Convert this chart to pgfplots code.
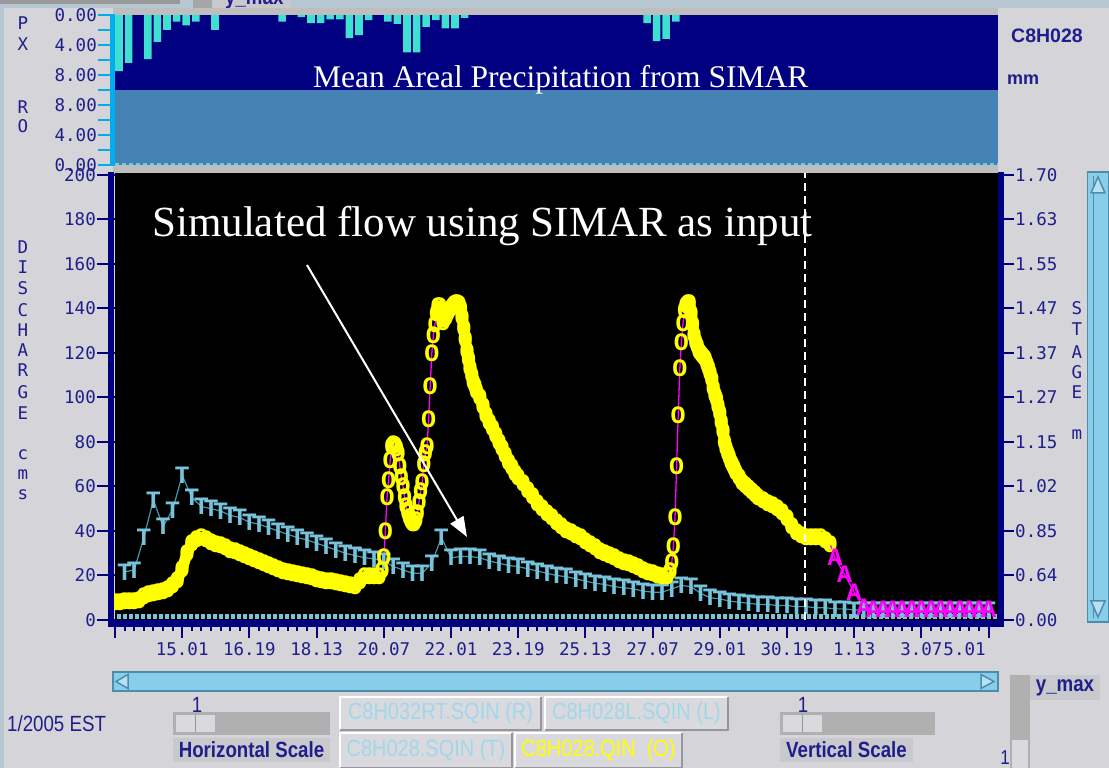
\documentclass[border=0pt]{standalone}
\usepackage{fontspec}
\setmainfont{Liberation Serif}
\newfontfamily\monof{DejaVu Sans Mono}
\newfontfamily\markf{Liberation Mono}
\newfontfamily\guif{Liberation Sans}
\usepackage{graphicx}
\usepackage{pgfplots}
\pgfplotsset{compat=1.18}
\usepackage{pgfplotstable}
\usetikzlibrary{arrows.meta}

\definecolor{bggray}{RGB}{213,212,216}
\definecolor{topstrip}{RGB}{183,200,210}
\definecolor{frameg}{RGB}{190,190,190}
\definecolor{pnavy}{RGB}{0,0,128}
\definecolor{psteel}{RGB}{70,130,180}
\definecolor{turq}{RGB}{64,224,208}
\definecolor{tlab}{RGB}{30,30,140}
\definecolor{tcol}{RGB}{120,195,220}
\definecolor{tline}{RGB}{70,150,165}
\definecolor{sky}{RGB}{135,206,235}
\definecolor{skyd}{RGB}{80,140,170}
\definecolor{btn}{RGB}{218,218,222}
\definecolor{btnd}{RGB}{150,150,155}
\definecolor{btntxt}{RGB}{160,215,235}
\definecolor{trough}{RGB}{176,176,176}
\definecolor{lblbox}{RGB}{200,200,205}
\definecolor{magp}{RGB}{255,0,255}
\definecolor{yel}{RGB}{255,255,0}
\definecolor{dcyan}{RGB}{95,210,225}

% precipitation (mm per 6 h), x in hours from the left edge
\pgfplotstableread{
h mm
2.5 7.5
8.5 6.4
20.5 5.9
26.5 3.6
32.5 2.0
38.5 0.9
44.5 1.4
50.5 0.9
62.5 2.0
104.5 0.9
116.5 0.3
122.5 1.1
128.5 1.1
134.5 0.6
140.5 0.6
146.5 3.1
152.5 2.7
158.5 0.7
170.5 0.9
176.5 1.2
182.5 5.0
188.5 5.0
194.5 1.6
200.5 0.7
206.5 1.8
212.5 1.8
218.5 0.4
332.5 1.1
338.5 3.5
344.5 3.2
350.5 0.9
}\precip

% C8H028.SQIN (T)
\pgfplotstableread{
h q
6 21.6
12 22.5
18 37
24 54
30 42
36 49.5
42 65
48 55
54 51
60 50
66 49
72 47
78 46
84 44
90 43
96 41.5
102 40
108 38.5
114 37
120 36
126 34.5
132 33
138 31.5
144 30
150 29
156 28
162 27.5
168 26.5
174 24
180 22.5
186 21
192 21
198 25.6
204 37
210 28
216 28.5
222 28.5
228 28
234 26.5
240 25.5
246 24.5
252 24
258 23
264 22
270 21
276 20
282 19.5
288 18.5
294 17.5
300 16.5
306 16
312 15
318 14.5
324 14
330 13
336 12.5
342 12.5
348 14
354 15.5
360 15
366 12
372 10
378 9.5
384 8.5
390 8
396 7.5
402 7
408 7
414 6.5
420 6.5
426 6
432 6
438 5.5
444 5.5
450 5
456 5
462 4.5
468 4.5
474 4.5
480 4.5
486 4.5
492 4.5
498 4.5
504 4.5
510 4.5
516 4.5
522 4.5
528 4.5
534 4.5
540 4.5
546 4.5
}\Tdata

% C8H028.QIN (O)
\pgfplotstableread{
h q
0 8
3 8
6 8.2
9 8.3
12 8.5
15 9
18 10.5
21 11.5
24 12
27 12.5
30 13
33 14
36 15.5
39 18
42 23
45 30
48 34.5
51 36.5
54 37
57 36.5
60 35
63 34
66 33.5
69 32.5
72 31.5
75 31
78 30
81 29
84 28
87 27.5
90 26.5
93 25.5
96 24.5
99 23.5
102 23
105 22
108 21.5
111 21
114 20.5
117 20
120 19.5
123 19
126 18.5
129 18
132 17.5
135 17.2
138 16.8
141 16.5
144 16
147 15.7
150 15.2
153 17.5
156 19.5
159 19.5
162 19.5
165 19.5
167 22.5
168 28
169 40
170 55
171 63
172 72
173 78
174 79
175 78.5
176 77
177 75
178 69
179 64
180 60
181 55
182 51
183 48.5
184 46
185 44.5
186 43.5
187 43.5
188 45
189 48
190 53
191 58
192 62
193 70
194 75
195 78
196 90
197 105
198 120
199 128
200 133
201 138
202 141
203 141
204 137
205 134
206 135
207 136
208 138
209 139
210 140
211 141
212 142
213 142.5
214 142.5
215 142
216 140
217 136
218 131
219 126
220 121
221 117
222 113
223 110
224 107
225 105
226 103
228 100
230 96
232 92
234 89
236 86
238 83
240 80
242 77
244 74
246 71
248 68.5
250 66
252 64
255 61.5
258 58.5
261 55.5
264 52.5
267 50
270 48
273 46
276 44
279 42
282 40.5
285 39.5
288 38
291 37
294 35.5
297 34
300 32.5
303 31
306 30
309 29
312 28
315 27
318 26
321 25.3
324 24.5
327 23.5
330 22.5
333 21.5
336 20.8
339 20
342 19.5
345 19.5
347 22
348 26
349 33
350 46
351 69
352 92
353 113
354 125
355 133.5
356 139
357 141.6
358 142.5
359 142.5
360 138
361 133
362 128
363 125
364 123
365 121
366 120
367 119
368 118
369 117
370 115
371 113
372 111
373 108
374 104
375 101
376 99
377 96
378 93
379 89
380 85
381 80
382 77
383 75
384 73
385 71
386 69.5
387 68
388 66.5
390 64
392 62
394 60.5
396 59
398 58
400 56.5
402 55
405 54
408 52.5
411 51.5
414 50
417 48.5
420 45.5
423 42
426 39.5
429 38
432 37.3
435 37
438 37
441 37
444 36
447 34
}\Odata

% forecast (A)
\pgfplotstableread{
h q
450 28
456 20.5
462 12.5
468 5.5
474 5
480 5
486 5
492 5
498 5
504 5
510 5
516 5
522 5
528 5
534 5
540 5
546 5
552 5
}\Adata

\newcommand\btnbox[6]{%
  \fill[btn] (#1,#2) rectangle (#3,#4);
  \draw[white, line width=1.5bp] (#1,#2)--(#1,#4)--(#3,#4);
  \draw[btnd, line width=1.5bp] (#1,#2)--(#3,#2)--(#3,#4);
  \node[text=#5, inner sep=0pt, font=\guif\fontsize{23.5bp}{23.5bp}\selectfont] at ({(#1+#3)/2},{(#2+#4)/2}) {\scalebox{0.85}[1]{#6}};}

\begin{document}
\begin{tikzpicture}[x=1bp,y=1bp]
\fill[bggray] (0,0) rectangle (1109,768);
\fill[topstrip] (0,760) rectangle (1109,768);
\fill[topstrip] (0,0) rectangle (4,768);
\fill[frameg] (113,593) rectangle (998,760);
% top-left gui fragments
\fill[gray!80] (0,764) rectangle (180,768);
\fill[gray!70] (193,760) rectangle (212,768);
\fill[lblbox] (213,760) rectangle (290,768);
\begin{scope}
\clip (213,760) rectangle (290,768);
\node[anchor=base west, inner sep=0pt, text=tlab, font=\guif\bfseries\fontsize{22bp}{22bp}\selectfont] at (225,763) {\scalebox{0.85}[1]{y\_max}};
\end{scope}

% ---------- PX panel ----------
\begin{axis}[at={(115bp,678bp)}, anchor=south west, scale only axis,
  width=883bp, height=75bp, xmin=0, xmax=551.875, ymin=0, ymax=10, y dir=reverse,
  axis background/.style={fill=pnavy}, axis line style={draw=none},
  xtick=\empty, ytick={0,2,4,6,8,10}, yticklabels={0.00,,4.00,,8.00,},
  ytick pos=left, tick align=outside, major tick length=17bp,
  ytick style={cyan, line width=2bp},
  yticklabel style={font=\monof\fontsize{17.5bp}{17.5bp}\selectfont, text=tlab, inner sep=1bp}]
\addplot[ybar, bar width=4.7, fill=turq, draw=none] table[x=h, y=mm] {\precip};
\end{axis}

% ---------- RO panel ----------
\begin{axis}[at={(115bp,603bp)}, anchor=south west, scale only axis,
  width=883bp, height=75bp, xmin=0, xmax=551.875, ymin=0, ymax=10,
  axis background/.style={fill=psteel}, axis line style={draw=none},
  xtick=\empty, ytick={0,2,4,6,8,10}, yticklabels={0.00,,4.00,,8.00,},
  ytick pos=left, tick align=outside, major tick length=17bp,
  ytick style={cyan, line width=2bp},
  yticklabel style={font=\monof\fontsize{17.5bp}{17.5bp}\selectfont, text=tlab, inner sep=1bp}]
\addplot[dcyan, line width=2bp, dash pattern=on 4bp off 3bp] coordinates {(0,0.15) (551.875,0.15)};
\end{axis}

% ---------- main discharge axis ----------
\begin{axis}[at={(115bp,148bp)}, anchor=south west, scale only axis,
  width=883bp, height=447bp, xmin=0, xmax=551.875, ymin=0, ymax=200.9,
  axis background/.style={fill=black}, axis line style={draw=none},
  xtick={0,42,...,546},
  xticklabels={,15.01,16.19,18.13,20.07,22.01,23.19,25.13,27.07,29.01,30.19,1.13,3.07,{\makebox[0pt][r]{5.01\kern3bp}}},
  minor x tick num=6,
  ytick={0,20,...,200}, yticklabels={0,20,40,60,80,100,120,140,160,180,200},
  xtick pos=left, ytick pos=left, tick align=outside,
  major tick length=18bp, minor tick length=11bp,
  tick style={pnavy, line width=2bp},
  ticklabel style={font=\monof\fontsize{17.5bp}{17.5bp}\selectfont, text=tlab},
  yticklabel style={inner sep=1bp},
  xticklabel style={inner sep=1bp, yshift=-3bp}]
% T series
\addplot[tline, line width=1.2bp] table[x=h, y=q] {\Tdata};
\addplot[tcol, only marks, mark=text, text mark={T}, text mark as node=true,
  text mark style={font=\markf\bfseries\fontsize{25bp}{25bp}\selectfont, inner sep=0pt}] table[x=h, y=q] {\Tdata};
% row near zero
\addplot[tcol, line width=5bp, dash pattern=on 4.5bp off 1.5bp] coordinates {(1,1.6) (551.875,1.6)};
% O series
\addplot[magp, line width=1.3bp] table[x=h, y=q] {\Odata};
\addplot[yel, line width=11bp, line join=round, line cap=round, restrict x to domain=0:166] table[x=h, y=q] {\Odata};
\addplot[yel, line width=11bp, line join=round, line cap=round, restrict x to domain=201:346] table[x=h, y=q] {\Odata};
\addplot[yel, line width=11bp, line join=round, line cap=round, restrict x to domain=357:447] table[x=h, y=q] {\Odata};
\addplot[yel, only marks, mark=text, text mark={O}, text mark as node=true,
  text mark style={font=\markf\bfseries\fontsize{25bp}{25bp}\selectfont, inner sep=0pt}] table[x=h, y=q] {\Odata};
% A series
\addplot[magp, line width=1.3bp] coordinates {(447,34) (450,28) (456,20.5) (462,12.5) (468,5.5) (474,5)};
\addplot[magp, only marks, mark=text, text mark={A}, text mark as node=true,
  text mark style={font=\markf\bfseries\fontsize{25bp}{25bp}\selectfont, inner sep=0pt}] table[x=h, y=q] {\Adata};
\end{axis}

% ---------- right stage axis ----------
\begin{axis}[at={(115bp,148bp)}, anchor=south west, scale only axis,
  width=883bp, height=447bp, xmin=0, xmax=551.875, ymin=0, ymax=200.9,
  axis line style={draw=none}, xtick=\empty,
  ytick={0,20,...,200},
  yticklabels={0.00,0.64,0.85,1.02,1.15,1.27,1.37,1.47,1.55,1.63,1.70},
  ytick pos=right, tick align=outside, major tick length=16bp,
  tick style={pnavy, line width=2bp},
  yticklabel style={font=\monof\fontsize{17.5bp}{17.5bp}\selectfont, text=tlab, inner sep=1bp}]
\end{axis}

% frame lines
\fill[cyan] (110,603) rectangle (115,753);
\fill[pnavy] (108,141) rectangle (114,596);
\fill[pnavy] (998,141) rectangle (1004,596);
\fill[pnavy] (108,141) rectangle (1004,148);

% annotations
\draw[white, line width=1.5bp, dash pattern=on 8bp off 5bp] (805,148) -- (805,595);
\draw[white, line width=2bp, -{Triangle[width=15bp,length=20bp]}] (307,503) -- (467,231);
\node[anchor=base west, inner sep=0pt, white, font=\fontsize{43bp}{43bp}\selectfont] at (152,531) {Simulated flow using SIMAR as input};
\node[anchor=base west, inner sep=0pt, white, font=\fontsize{31.5bp}{31.5bp}\selectfont] at (313,680) {Mean Areal Precipitation from SIMAR};

% axis letters
\foreach \l/\py in {D/247,I/267,S/288,C/310,H/330,A/350,R/370,G/392,E/413,c/455,m/475,s/495,P/23,X/44,R/107,O/126}
  \node[text=tlab, inner sep=0pt, font=\monof\fontsize{17.5bp}{17.5bp}\selectfont] at (23,768-\py) {\l};
\foreach \l/\py in {S/308,T/329,A/352,G/372,E/392,m/435}
  \node[text=tlab, inner sep=0pt, font=\monof\fontsize{17.5bp}{17.5bp}\selectfont] at (1077,768-\py) {\l};
\node[anchor=west, inner sep=0pt, text=tlab, font=\guif\bfseries\fontsize{19.5bp}{19.5bp}\selectfont] at (1011,732) {C8H028};
\node[anchor=west, inner sep=0pt, text=tlab, font=\guif\bfseries\fontsize{18bp}{18bp}\selectfont] at (1007,688) {mm};

% right vertical scrollbar
\fill[sky] (1087,146) rectangle (1109,596);
\draw[skyd, line width=1.5bp] (1087.5,146) rectangle (1109,596);
\draw[skyd, line width=1bp] (1093,150) -- (1093,592);
\draw[skyd, line width=1.5bp, fill=sky!60] (1091,575) -- (1098,591) -- (1105,575) -- cycle;
\draw[skyd, line width=1.5bp, fill=sky!60] (1091,167) -- (1098,151) -- (1105,167) -- cycle;

% bottom horizontal scrollbar
\fill[sky] (113,77) rectangle (998,96);
\draw[skyd, line width=1.5bp] (113,77) rectangle (998,96);
\draw[skyd, line width=1.5bp, fill=sky!60] (128,79.5) -- (116,86.5) -- (128,93.5) -- cycle;
\draw[skyd, line width=1.5bp, fill=sky!60] (981,79.5) -- (994,86.5) -- (981,93.5) -- cycle;

% bottom controls
\node[anchor=west, inner sep=0pt, text=tlab, font=\guif\fontsize{22bp}{22bp}\selectfont] at (7,44) {\scalebox{0.85}[1]{1/2005 EST}};
\node[inner sep=0pt, text=tlab, font=\guif\fontsize{22bp}{22bp}\selectfont] at (197,63) {\scalebox{0.85}[1]{1}};
\node[inner sep=0pt, text=tlab, font=\guif\fontsize{22bp}{22bp}\selectfont] at (803,63) {\scalebox{0.85}[1]{1}};
\fill[trough] (173,33) rectangle (330,56);
\fill[trough] (780,33) rectangle (935,56);
\fill[btn] (176,36) rectangle (215,53); \draw[btnd] (195.5,36) -- (195.5,53);
\fill[btn] (783,36) rectangle (822,53); \draw[btnd] (802.5,36) -- (802.5,53);
\fill[lblbox] (173,6) rectangle (330,30);
\fill[lblbox] (780,6) rectangle (913,30);
\node[inner sep=0pt, text=tlab, font=\guif\bfseries\fontsize{22bp}{22bp}\selectfont] at (251.5,18) {\scalebox{0.85}[1]{Horizontal Scale}};
\node[inner sep=0pt, text=tlab, font=\guif\bfseries\fontsize{22bp}{22bp}\selectfont] at (846.5,18) {\scalebox{0.85}[1]{Vertical Scale}};
\btnbox{340}{38}{541}{71}{btntxt}{C8H032RT.SQIN (R)}
\btnbox{545}{38}{728}{71}{btntxt}{C8H028L.SQIN (L)}
\btnbox{340}{0}{512}{35}{btntxt}{C8H028.SQIN (T)}
\btnbox{515}{0}{682}{35}{yel}{C8H028.QIN\ \ (O)}
\fill[trough] (1010,0) rectangle (1030,93);
\fill[btn] (1012,0) rectangle (1028,28);
\fill[lblbox] (1030,68) rectangle (1100,93);
\node[inner sep=0pt, text=tlab, font=\guif\bfseries\fontsize{22bp}{22bp}\selectfont] at (1065,80.5) {\scalebox{0.85}[1]{y\_max}};
\node[inner sep=0pt, text=tlab, font=\guif\fontsize{20bp}{20bp}\selectfont] at (1005,10) {\scalebox{0.85}[1]{1}};
\pgfresetboundingbox
\useasboundingbox (0,0) rectangle (1109,768);
\end{tikzpicture}
\end{document}
